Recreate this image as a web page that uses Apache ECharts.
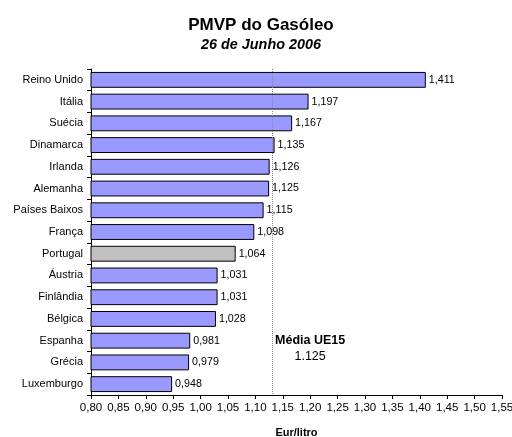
<!DOCTYPE html>
<html>
<head>
<meta charset="utf-8">
<script src="https://cdn.jsdelivr.net/npm/echarts@6/dist/echarts.min.js"></script>
<style>html,body{margin:0;padding:0;background:#fff}#c{width:512px;height:437px}</style>
</head>
<body>
<div id="c"></div>
<script>
var countries = ['Reino Unido','Itália','Suécia','Dinamarca','Irlanda','Alemanha','Países Baixos','França','Portugal','Áustria','Finlândia','Bélgica','Espanha','Grécia','Luxemburgo'];
var prices = [1.411,1.197,1.167,1.135,1.126,1.125,1.115,1.098,1.064,1.031,1.031,1.028,0.981,0.979,0.948];
var highlightCountry = 'Portugal';
var averageValue = 1.125;
var averageName = 'Média UE15';
var averageLabel = '1.125';
var averageAnchorCategory = 'Espanha';
var axisMin = 0.80, axisMax = 1.55, axisStep = 0.05;

var FONT = '"Liberation Sans", Arial, sans-serif';
var chart = echarts.init(document.getElementById('c'), null, {renderer:'canvas'});
var barData = countries.map(function(c, i){
  var item = {value: prices[i]};
  if (c === highlightCountry) item.itemStyle = {color:'#C0C0C0'};
  return item;
});
chart.setOption({
  backgroundColor:'#fff',
  animation:false,
  title:[
    {text:'PMVP do Gasóleo', left:256, top:12, textAlign:'center',
     textStyle:{fontFamily:FONT, fontSize:17, fontWeight:'bold', color:'#000'}},
    {text:'26 de Junho 2006', left:256, top:33, textAlign:'center',
     textStyle:{fontFamily:FONT, fontSize:14.4, fontWeight:'bold', fontStyle:'italic', color:'#000'}}
  ],
  grid:{left:91, right:10, top:69, bottom:42, containLabel:false, outerBoundsMode:'none'},
  xAxis:{
    type:'value', min:axisMin, max:axisMax, interval:axisStep,
    name:'Eur/litro', nameLocation:'middle', nameGap:32,
    nameTextStyle:{fontFamily:FONT, fontSize:11, fontWeight:'bold', color:'#000'},
    axisLine:{show:true, lineStyle:{color:'#000', width:1}},
    axisTick:{show:true, length:4, lineStyle:{color:'#000'}},
    splitLine:{show:false},
    axisLabel:{fontFamily:FONT, fontSize:11.5, color:'#000', margin:7, hideOverlap:false,
      formatter:function(v){return v.toFixed(2).replace('.',',');}}
  },
  yAxis:{
    type:'category', data:countries, inverse:true,
    axisLine:{show:true, lineStyle:{color:'#000', width:1}},
    axisTick:{show:true, length:4, alignWithLabel:false, lineStyle:{color:'#000'}},
    axisLabel:{fontFamily:FONT, fontSize:11, color:'#000', margin:8}
  },
  series:[{
    type:'bar', data:barData, barCategoryGap:'27%',
    itemStyle:{color:'#9999FF', borderColor:'#000', borderWidth:1},
    label:{show:true, position:'right', distance:3, fontFamily:FONT, fontSize:10.7, color:'#000',
      formatter:function(p){return p.value.toFixed(3).replace('.',',');}},
    markLine:{
      silent:true, symbol:['none','none'],
      label:{show:false},
      lineStyle:{type:'dotted', color:'#888', width:1},
      data:[{xAxis:averageValue}]
    },
    markPoint:{
      silent:true, symbol:'circle', symbolSize:0,
      data:[{coord:[averageValue, averageAnchorCategory]}],
      label:{show:true, position:'right', distance:5, offset:[0,8],
        formatter:'{a|'+averageName+'}\n{b|'+averageLabel+'}',
        rich:{
          a:{fontFamily:FONT, fontSize:12.5, fontWeight:'bold', color:'#000', width:72, align:'center', lineHeight:16},
          b:{fontFamily:FONT, fontSize:12.5, color:'#000', width:72, align:'center', lineHeight:16}
        }
      }
    }
  }]
});
</script>
</body>
</html>
